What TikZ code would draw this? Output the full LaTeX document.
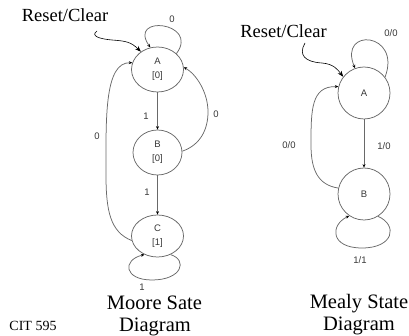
\documentclass[tikz,border=0pt]{standalone}
\usepackage{fontspec}
\setmainfont{Liberation Serif}
\newfontfamily\lblfont{Liberation Sans}
\usetikzlibrary{shapes.geometric,arrows.meta}
\definecolor{edgegray}{RGB}{105,105,105}
\definecolor{lbltext}{RGB}{55,55,55}

\begin{document}
\begin{tikzpicture}[x=1pt,y=-1pt,
  state/.style={ellipse, draw=edgegray, line width=0.75pt, inner sep=0pt,
    font=\lblfont\fontsize{9.5}{14}\selectfont, align=center, text=lbltext},
  edge/.style={draw=edgegray, line width=0.75pt,
    -{Stealth[length=3.5pt,width=3pt,color=black]}},
  lbl/.style={font=\lblfont\fontsize{9.5}{10}\selectfont, text=lbltext},
  reset/.style={draw=black, line width=0.6pt, -{Stealth[length=6pt,width=4.5pt]}},
  title/.style={font=\fontsize{18.5}{20}\selectfont, anchor=base},
  caption/.style={font=\fontsize{20.5}{22}\selectfont, anchor=base}]
\useasboundingbox (0,0) rectangle (409,336);

% ---------------- Moore machine ----------------
\node[state, minimum width=52pt, minimum height=45pt] (mA) at (157.5,69.5) {A\\{[0]}};
\node[state, minimum width=49pt, minimum height=45pt] (mB) at (157.5,152.5) {B\\{[0]}};
\node[state, minimum width=52pt, minimum height=42pt] (mC) at (157.5,236) {C\\{[1]}};

\node[title] (mreset) at (65,22) {Reset/Clear};
\coordinate (mrs) at (97,31);
\draw[reset] (mrs) .. controls (90,36) and (100,39) .. (112,40)
  .. controls (126,41) and (131,42) .. (mA.133);

\draw[edge] (mA) -- (mB);
\draw[edge] (mB) -- (mC);
\node[lbl] (m1a) at (146,116) {1};
\node[lbl] (m1b) at (147,192) {1};

% self loop on A
\draw[edge] (mA.40) .. controls (200,22) and (127,14) .. (mA.108);
\node[lbl] (m0a) at (172,19) {0};

% B back to A
\draw[edge] (mB.3) .. controls (200,145) and (208,130) .. (208,112)
  .. controls (208,92) and (196,74) .. (mA.5);
\node[lbl] (m0b) at (216,114) {0};

% C back to A
\draw[edge] (mC.190) .. controls (110,232) and (106,210) .. (106,175)
  .. controls (106,120) and (104,62) .. (mA.165);
\node[lbl] (m0c) at (97,136) {0};

% self loop on C
\draw[edge] (mC.-55) .. controls (188,260) and (182,280) .. (152,280)
  .. controls (124,280) and (122,260) .. (mC.-125);
\node[lbl] (m1c) at (142,287) {1};

\node[caption] (mcap1) at (154.5,309) {Moore Sate};
\node[caption] (mcap2) at (155,331) {Diagram};
\node[font=\fontsize{14}{16}\selectfont, anchor=base] (cit) at (33,330) {CIT 595};

% ---------------- Mealy machine ----------------
\node[state, circle, minimum size=52pt] (yA) at (364,93) {A};
\node[state, circle, minimum size=52pt] (yB) at (364,194) {B};

\node[title] (yreset) at (283.5,38) {Reset/Clear};
\coordinate (yrs) at (305,43);
\draw[reset] (yrs) .. controls (298,55) and (305,62) .. (322,63)
  .. controls (334,64) and (338,70) .. (yA.142);

\draw[edge] (yA) -- (yB);
\node[lbl] (y10) at (384,146) {1/0};

% self loop on A
\draw[edge] (yA.37) .. controls (402,32) and (338,27) .. (yA.110);
\node[lbl] (y00a) at (391,33) {0/0};

% B back to A
\draw[edge] (yB.167) .. controls (318,185) and (311,170) .. (311,145)
  .. controls (311,110) and (311,86) .. (yA.166);
\node[lbl] (y00b) at (289,145) {0/0};

% self loop on B
\draw[edge] (yB.-58) .. controls (398,225) and (394,248) .. (362,248)
  .. controls (330,248) and (330,225) .. (yB.-124);
\node[lbl] (y11) at (360,260) {1/1};

\node[caption] (ycap1) at (359,308) {Mealy State};
\node[caption] (ycap2) at (359,330) {Diagram};
\end{tikzpicture}
\end{document}
